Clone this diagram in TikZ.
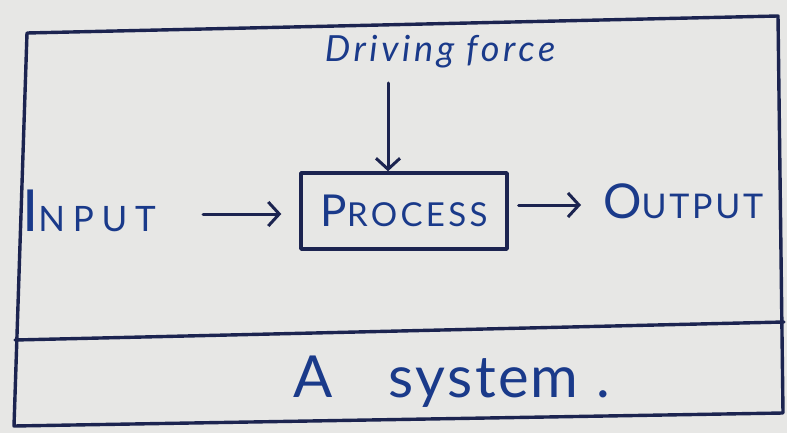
\documentclass[tikz,border=0pt]{standalone}
\usepackage{fontspec}
\setmainfont{Lato}
\usetikzlibrary{arrows.meta}
\definecolor{bg}{HTML}{E7E7E5}
\definecolor{ink}{HTML}{1C2450}
\definecolor{pen}{HTML}{1A3A8A}
\tikzset{
  frame/.style={draw=ink, line width=3.4pt, line join=round, line cap=round},
  arr/.style={draw=ink, line width=3pt, line cap=round, -{Straight Barb[length=11pt,width=24pt,line width=3pt]}},
  hand/.style={text=pen, inner sep=0pt},
}
\begin{document}
\begin{tikzpicture}[x=1pt,y=-1pt]
\fill[bg] (0,0) rectangle (787,433);
\useasboundingbox (0,0) rectangle (787,433);
% outer frame
\coordinate (tl) at (27,33);
\coordinate (tr) at (778,16);
\coordinate (br) at (783,413);
\coordinate (bl) at (14,426);
\coordinate (dl) at (15,340);
\coordinate (dr) at (784,322);
\draw[frame] (tl) -- (tr) -- (br) -- (bl) -- cycle;
\draw[frame] (dl) -- (dr);
% process
\node[frame, minimum width=206pt, minimum height=76pt, inner sep=0pt] (proc) at (404,211) {};
\node[hand, font=\fontsize{44}{46}\selectfont\addfontfeature{LetterSpace=10}] at (proc.center) {P\fontsize{33}{35}\selectfont\addfontfeature{LetterSpace=10}ROCESS};
% input / output
\node[hand, anchor=west, font=\fontsize{58}{60}\selectfont] (in) at (22,211) {I\fontsize{35}{37}\selectfont\addfontfeature{LetterSpace=22}NPUT};
\node[hand, anchor=west, font=\fontsize{48}{50}\selectfont] (out) at (603,201) {O\fontsize{34}{36}\selectfont\addfontfeature{LetterSpace=8}UTPUT};
\draw[arr, shorten >=18pt] (203,214) -- (proc.west |- 0,214);
\draw[arr, shorten <=10pt, shorten >=22pt] (proc.east |- 0,205) -- (out.west |- 0,205);
% driving force
\node[hand, font=\itshape\fontsize{36}{38}\selectfont\addfontfeature{LetterSpace=10}] (df) at (440,52) {Driving force};
\coordinate (dfs) at (388,83);
\draw[arr] (dfs) -- (dfs |- proc.north);
% system label
\node[hand, font=\fontsize{58}{60}\selectfont\addfontfeature{LetterSpace=4}] (sys) at (452,382) {A\hspace{56pt}system\hspace{18pt}.};
\end{tikzpicture}
\end{document}
